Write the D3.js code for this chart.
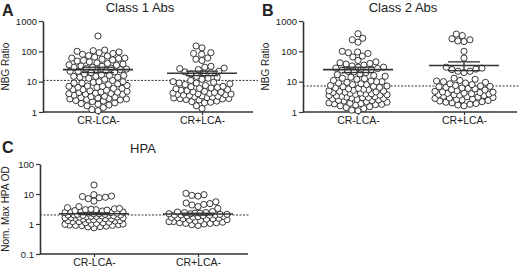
<!DOCTYPE html>
<html>
<head>
<meta charset="utf-8">
<script src="https://cdn.jsdelivr.net/npm/d3@7"></script>
<style>
  body { margin: 0; background: #fff; }
  text { font-family: Arial, "Liberation Sans", sans-serif; fill: #222; }
</style>
</head>
<body>
<script>
// categories
const groups = ["CR-LCA-", "CR+LCA-"];

// Class 1 Abs, NBG ratio per patient
const class1_neg = [320,
  110, 95, 100, 85, 80, 90, 105,
  70, 65, 60, 55, 50, 60, 72, 52, 48, 58,
  45, 40, 35, 38, 32, 30, 42, 36, 33, 30, 28,
  27, 25, 24, 22, 21, 20, 23, 26, 22,
  18, 17, 16, 15, 14, 13, 12, 15, 14, 16,
  11, 10, 9.5, 9, 8.5, 8, 10, 9,
  7.5, 7, 6.5, 6, 5.5, 5, 6, 7, 5.5, 6.5, 5.2, 7.2,
  4.8, 4.5, 4.2, 4, 3.8, 3.6, 4.4, 4.6, 3.9, 4.1,
  3.3, 3.1, 3, 2.9, 2.8, 2.7, 2.6, 2.5, 3.2, 2.7,
  2.4, 2.2, 2.0, 1.9, 1.8, 1.7, 2.3,
  1.6, 1.4, 1.2, 1.1];
const class1_pos = [150, 130, 90, 80, 85, 60, 55, 50,
  32, 30, 28, 25, 27, 22, 20, 21, 19, 18,
  15, 14, 13, 12, 11,
  10, 9.5, 9, 8.5, 8, 7.5, 9,
  7, 6.5, 6, 5.5, 5, 6.2, 5.8, 5.2, 6.8,
  4.8, 4.5, 4.2, 4, 3.8, 3.6, 3.5, 4.4, 4.6, 3.9, 4.1, 3.7,
  3.4, 3.2, 3, 2.9, 2.8, 2.7, 2.6, 3.1, 3.3, 2.75,
  2.5, 2.3, 2.2, 2.1, 2.0,
  1.6, 1.3];

// Class 2 Abs
const class2_neg = [380, 270, 240, 200,
  100, 95, 90, 85, 70, 65,
  50, 45, 42, 40, 38, 35, 33, 30, 30, 28,
  27, 25, 24, 22, 21, 20, 18, 17, 16,
  15, 14, 13, 12.5, 12, 11, 10.5, 10, 10,
  9.5, 9, 8.5, 8, 8, 7.5, 7.2, 7, 6.8, 6.5, 6.2,
  6, 5.8, 5.6, 5.4, 5.2, 5, 4.9, 4.8, 4.6, 4.5, 4.4, 4.2,
  4.1, 4, 3.9, 3.8, 3.7, 3.6, 3.5, 3.4, 3.3, 3.2, 3.1, 3,
  2.95, 2.9, 2.8, 2.7, 2.6, 2.5, 2.45, 2.4, 2.3, 2.2, 2.1, 2,
  1.95, 1.9, 1.85, 1.8, 1.75, 1.7, 1.6, 1.5, 1.4, 1.3, 1.15, 1.1];
const class2_pos = [370, 330, 260, 240, 220, 210,
  100, 60,
  30, 28, 26, 25, 22, 20, 22,
  13, 12, 11, 10, 9, 8, 8.5, 9.5, 10.5, 7.5,
  7, 6.5, 6, 5.5, 5, 6.2, 5.8, 5.3, 6.8, 7.2,
  4.8, 4.5, 4.2, 4, 3.8, 3.6, 3.5, 4.4, 4.6, 3.9, 4.1, 3.7,
  3.3, 3.1, 3, 2.9, 2.8, 2.7, 2.6, 3.2, 2.5, 2.4, 2.3,
  2.2, 2.1, 2.0, 1.9, 1.8, 1.7, 1.6];

// HPA, normalised max OD
const hpa_neg = [20,
  9.5, 8.5, 7.8, 7, 5.8, 7.5, 8.2,
  3.8, 3.5, 3.3, 3.2, 3.1, 3, 3, 2.9, 2.8, 2.7,
  2.6, 2.5, 2.5, 2.4, 2.4, 2.3, 2.3, 2.2, 2.2, 2.1, 2.1, 2.0, 2.0, 2.0,
  1.95, 1.9, 1.9, 1.85, 1.8, 1.8, 1.75, 1.7, 1.7, 1.65, 1.6, 1.6, 1.55, 1.5, 1.5,
  1.45, 1.4, 1.4, 1.35, 1.3, 1.3, 1.25, 1.2, 1.2, 1.15, 1.1, 1.1, 1.05, 1.0, 1.0,
  0.98, 0.95, 0.92, 0.9, 0.9, 0.88, 0.85, 0.82, 0.8, 0.75];
const hpa_pos = [10.5, 9.5, 9, 8.5,
  5.5, 5, 4.8, 4.5, 4.3, 3.8, 3.3,
  2.6, 2.5, 2.4, 2.4, 2.3, 2.3, 2.2, 2.2, 2.1, 2.1, 2.0, 2.0, 2.0,
  1.95, 1.9, 1.85, 1.8, 1.75, 1.7, 1.65, 1.6, 1.55, 1.5, 1.5,
  1.45, 1.4, 1.35, 1.3, 1.25, 1.2, 1.2, 1.15, 1.1, 1.1, 1.05, 1.05, 1.0,
  0.95, 0.9];

// means, SEM, cut-off lines
const class1Mean = [25, 19], class1Sem = [5, 3.2], class1Cut = 11;
const class2Mean = [25, 34], class2Sem = [5, 11], class2Cut = 7.2;
const hpaMean = [2.2, 2.15], hpaSem = [0.15, 0.15], hpaCut = 2.0;

// tick values
const ticksAB = [1, 10, 100, 1000];
const ticksC = [0.1, 1, 10, 100];

const W = 520, H = 268;
const svg = d3.select("body").append("svg").attr("width", W).attr("height", H);

// place points of a column near the centre line, squeezing them
// together (with overlap) once the column gets wider than cap
function swarm(vals, y, d, cap) {
  const pts = vals.map(v => ({ v: v, y: y(v) })).sort((a, b) => b.y - a.y);
  const placed = [];
  pts.forEach(p => {
    const iv = [];
    placed.forEach(q => {
      const dy = Math.abs(q.y - p.y);
      if (dy < d) {
        const dx = Math.sqrt(d * d - dy * dy);
        iv.push([q.x - dx, q.x + dx]);
      }
    });
    let cands = [0];
    iv.forEach(i => { cands.push(i[0], i[1]); });
    cands.sort((a, b) => Math.abs(a) - Math.abs(b));
    let best = 0;
    for (const c of cands) {
      if (iv.every(i => c <= i[0] + 1e-6 || c >= i[1] - 1e-6)) { best = c; break; }
    }
    if (Math.abs(best) > cap) {
      let bd = -1;
      for (let c = -cap; c <= cap; c += 0.5) {
        let md = Infinity;
        placed.forEach(q => {
          const dd = Math.hypot(q.x - c, q.y - p.y);
          if (dd < md) md = dd;
        });
        if (md > bd + 1e-6) { bd = md; best = c; }
      }
    }
    p.x = best;
    placed.push(p);
  });
  return placed;
}

function panel(cfg) {
  const g = svg.append("g");

  const y = d3.scaleLog().domain(cfg.domain).range([cfg.yBot, cfg.yTop]);
  const x = d3.scalePoint().domain(groups).range(cfg.xRange).padding(0.5);

  // panel letter + title
  g.append("text").attr("x", cfg.letterX).attr("y", cfg.letterY)
    .style("font-size", "16px").style("font-weight", "bold").text(cfg.letter);
  g.append("text").attr("x", cfg.titleX).attr("y", cfg.titleY)
    .attr("text-anchor", "middle").style("font-size", "13px").text(cfg.title);

  // y axis
  const ya = g.append("g").attr("transform", "translate(" + cfg.axisX + ",0)")
    .call(d3.axisLeft(y).tickValues(cfg.ticks).tickFormat(d3.format("~g")).tickSize(4).tickSizeOuter(0).tickPadding(2));
  ya.select(".domain").attr("stroke", "#333").attr("stroke-width", 1.6);
  ya.selectAll(".tick line").attr("stroke", "#333").attr("stroke-width", 1.2);
  ya.selectAll(".tick text").style("font-size", "9.5px").attr("fill", "#222").style("font-family", "Arial, 'Liberation Sans', sans-serif");

  g.append("text")
    .attr("transform", "translate(" + cfg.labelX + "," + ((cfg.yTop + cfg.yBot) / 2) + ") rotate(-90)")
    .attr("text-anchor", "middle").style("font-size", "10px").text(cfg.yLabel);

  // x axis
  const xa = g.append("g").attr("transform", "translate(0," + cfg.yBot + ")")
    .call(d3.axisBottom(x).tickSize(3).tickPadding(2));
  xa.select(".domain").remove();
  xa.selectAll(".tick line").attr("stroke", "#333").attr("stroke-width", 1.2);
  xa.selectAll(".tick text").style("font-size", "10.5px").attr("fill", "#222").style("font-family", "Arial, 'Liberation Sans', sans-serif");
  g.append("line").attr("x1", cfg.axisX).attr("x2", cfg.axisEnd)
    .attr("y1", cfg.yBot).attr("y2", cfg.yBot).attr("stroke", "#333").attr("stroke-width", 1.6);

  // cut-off
  g.append("line").attr("x1", cfg.axisX).attr("x2", cfg.cutEnd)
    .attr("y1", y(cfg.cut)).attr("y2", y(cfg.cut))
    .attr("stroke", "#333").attr("stroke-width", 1).attr("stroke-dasharray", "2,1.5");

  // points
  cfg.series.forEach((vals, i) => {
    const pts = swarm(vals, y, 6.2, 29);
    g.selectAll(null).data(pts).join("circle")
      .attr("cx", d => x(groups[i]) + d.x).attr("cy", d => y(d.v)).attr("r", 3.1)
      .attr("fill", "#fff").attr("stroke", "#222").attr("stroke-width", 0.9);
  });

  // mean and SEM
  groups.forEach((grp, i) => {
    const cx = x(grp), m = cfg.mean[i], s = cfg.sem[i];
    g.append("line").attr("x1", cx - 35).attr("x2", cx + 35).attr("y1", y(m)).attr("y2", y(m))
      .attr("stroke", "#333").attr("stroke-width", 1.6);
    g.append("line").attr("x1", cx).attr("x2", cx).attr("y1", y(m + s)).attr("y2", y(m - s))
      .attr("stroke", "#333").attr("stroke-width", 1.3);
    [m + s, m - s].forEach(v => {
      g.append("line").attr("x1", cx - 16).attr("x2", cx + 16).attr("y1", y(v)).attr("y2", y(v))
        .attr("stroke", "#333").attr("stroke-width", 1.3);
    });
  });
}

panel({ letter: "A", letterX: 2, letterY: 16, title: "Class 1 Abs", titleX: 140, titleY: 12,
  domain: [1, 1000], ticks: ticksAB, yTop: 21, yBot: 112, axisX: 43, axisEnd: 253,
  xRange: [46, 254], labelX: 9, yLabel: "NBG Ratio", cut: class1Cut, cutEnd: 258,
  series: [class1_neg, class1_pos], mean: class1Mean, sem: class1Sem });

panel({ letter: "B", letterX: 262, letterY: 16, title: "Class 2 Abs", titleX: 403, titleY: 12,
  domain: [1, 1000], ticks: ticksAB, yTop: 21, yBot: 112, axisX: 303, axisEnd: 517,
  xRange: [305, 517], labelX: 269, yLabel: "NBG Ratio", cut: class2Cut, cutEnd: 520,
  series: [class2_neg, class2_pos], mean: class2Mean, sem: class2Sem });

panel({ letter: "C", letterX: 2, letterY: 153, title: "HPA", titleX: 143, titleY: 153,
  domain: [0.1, 100], ticks: ticksC, yTop: 164, yBot: 254, axisX: 40, axisEnd: 248,
  xRange: [42, 250], labelX: 9, yLabel: "Nom. Max HPA OD", cut: hpaCut, cutEnd: 250,
  series: [hpa_neg, hpa_pos], mean: hpaMean, sem: hpaSem });
</script>
</body>
</html>
